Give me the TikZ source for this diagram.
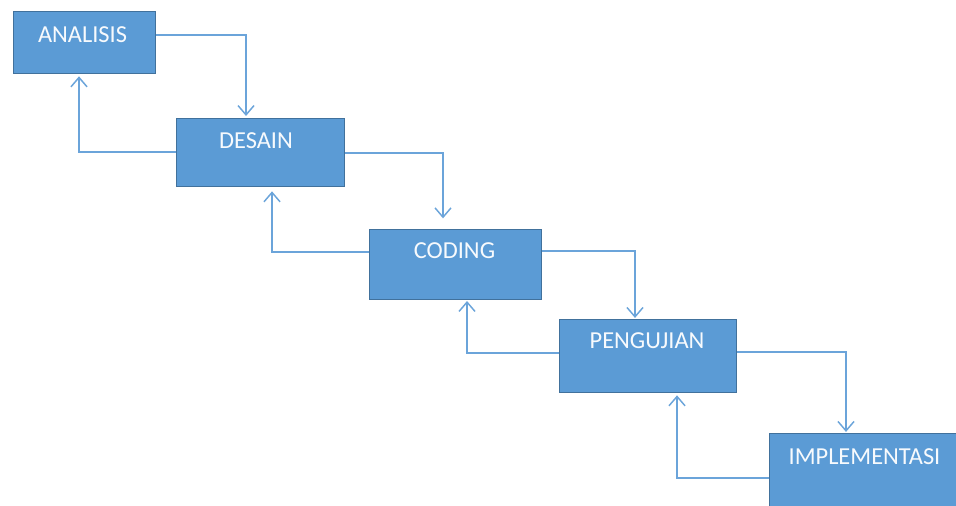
\documentclass[tikz,border=0pt]{standalone}
\usepackage{fontspec}
\setmainfont{Carlito}
\usetikzlibrary{arrows.meta}
\definecolor{boxfill}{HTML}{5B9BD5}
\definecolor{boxline}{HTML}{41719C}
\definecolor{arr}{HTML}{6BA4DA}
\begin{document}
\begin{tikzpicture}[x=0.75pt,y=-0.75pt,
  stepbox/.style={draw=boxline, fill=boxfill, line width=1pt, anchor=north west, inner sep=0pt},
  boxtext/.style={text=white!95!boxfill, font=\fontsize{18.3}{22}\selectfont, anchor=base, inner sep=0pt},
  flow/.style={draw=arr, line width=1.1pt, -{Straight Barb[length=7pt,width=12pt,line width=1.1pt]}}]
\clip (0,0) rectangle (956,506);
% boxes
\node[stepbox, minimum width=106.5pt, minimum height=46.5pt] (A) at (13,11) {};
\node[stepbox, minimum width=126pt, minimum height=51pt] (D) at (176,118) {};
\node[stepbox, minimum width=129pt, minimum height=52.5pt] (C) at (369,229) {};
\node[stepbox, minimum width=132.75pt, minimum height=54.75pt] (P) at (559,319) {};
\node[stepbox, minimum width=145pt, minimum height=60pt] (I) at (769,433) {};
% texts
\node[boxtext] (At) at (82.5,43) {ANALISIS};
\node[boxtext] (Dt) at (256,149) {DESAIN};
\node[boxtext] (Ct) at (454.5,258) {CODING};
\node[boxtext] (Pt) at (647,348) {PENGUJIAN};
\node[boxtext] (It) at (864.5,464) {IMPLEMENTASI};
% bend points
\coordinate (f1) at (246,35);
\coordinate (b1) at (79,152);
\coordinate (f2) at (443,153);
\coordinate (b2) at (272,252);
\coordinate (f3) at (635,251);
\coordinate (b3) at (467,353);
\coordinate (f4) at (846,352);
\coordinate (b4) at (677,478);
% forward arrows
\draw[flow, shorten >=1.5pt] (A.east |- f1) -- (f1) -- (f1 |- D.north);
\draw[flow, shorten >=8pt] (D.east |- f2) -- (f2) -- (f2 |- C.north);
\draw[flow, shorten >=0.8pt] (C.east |- f3) -- (f3) -- (f3 |- P.north);
\draw[flow, shorten >=0.8pt] (P.east |- f4) -- (f4) -- (f4 |- I.north);
% backward arrows
\draw[flow, shorten >=1.5pt] (D.west |- b1) -- (b1) -- (b1 |- A.south);
\draw[flow, shorten >=3pt] (C.west |- b2) -- (b2) -- (b2 |- D.south);
\draw[flow, shorten >=0.5pt] (P.west |- b3) -- (b3) -- (b3 |- C.south);
\draw[flow, shorten >=1.5pt] (I.west |- b4) -- (b4) -- (b4 |- P.south);
\end{tikzpicture}
\end{document}
